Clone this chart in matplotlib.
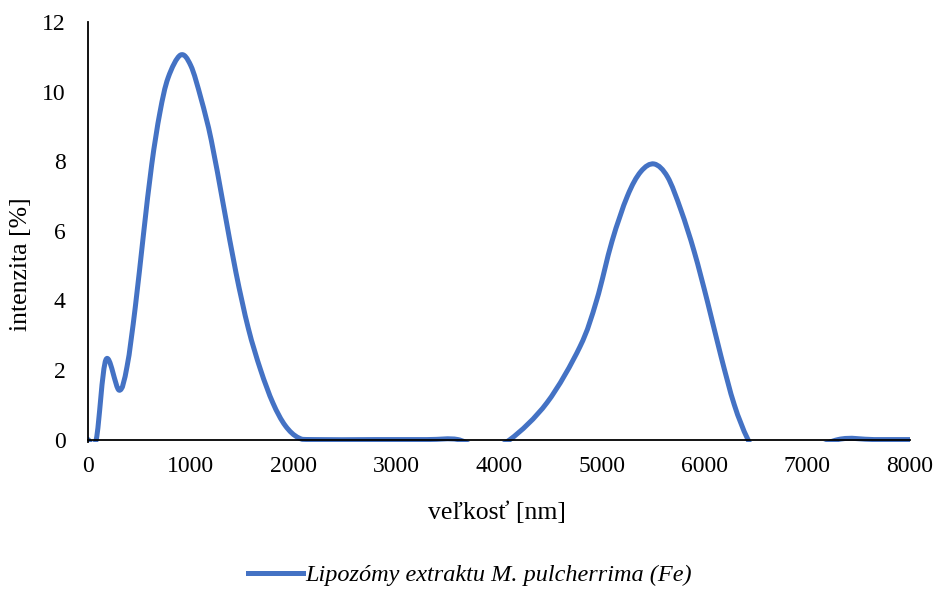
import numpy as np
import matplotlib
matplotlib.use('Agg')
import matplotlib.pyplot as plt
from matplotlib.path import Path
from matplotlib.patches import PathPatch
from matplotlib.lines import Line2D

plt.rcParams['font.family'] = ['Liberation Serif', 'DejaVu Serif']

# size distribution (x in nm, y in %)
size_nm = [0, 80, 175, 302, 380, 460, 540, 620, 700, 780, 900, 1000, 1100, 1200, 1320,
           1440, 1560, 1680, 1800, 1920, 2050, 2200, 2800, 3300, 3600, 3850, 4107,
           4467, 4788, 4950, 5100, 5250, 5380, 5510, 5640, 5770, 5900, 6030, 6160,
           6290, 6423, 6600, 6900, 7300, 7650, 8000]
intensity = [0, 0, 2.3, 1.42, 2.1, 3.8, 5.9, 7.9, 9.4, 10.4, 11.05, 10.75, 9.8, 8.6, 6.7,
             4.8, 3.2, 2.0, 1.05, 0.4, 0.05, 0.0, 0.0, 0.0, 0.0, -0.3, 0.0,
             1.06, 2.67, 4.0, 5.7, 7.0, 7.7, 7.92, 7.55, 6.6, 5.4, 3.95, 2.4,
             1.0, 0.0, -0.9, -0.5, 0.0, 0.0, 0.0]
series_label = 'Lipozómy extraktu M. pulcherrima (Fe)'
line_color = '#4472C4'

# smoothed line like excel (catmull-rom -> cubic bezier)
pts = np.column_stack([size_nm, intensity]).astype(float)
ext = np.vstack([pts[0], pts, pts[-1]])
verts = [pts[0]]
codes = [Path.MOVETO]
for i in range(1, len(ext) - 2):
    p0, p1, p2, p3 = ext[i - 1], ext[i], ext[i + 1], ext[i + 2]
    verts += [p1 + (p2 - p0) / 6, p2 - (p3 - p1) / 6, p2]
    codes += [Path.CURVE4] * 3

fig = plt.figure(figsize=(9.36, 5.89), dpi=100)
ax = fig.add_axes([88 / 936, 1 - 440 / 589 - 0.004, 822 / 936, 418 / 589 + 0.004])
ax.add_patch(PathPatch(Path(verts, codes), fill=False, edgecolor=line_color,
                       lw=3.6, capstyle='round', joinstyle='round'))

ax.set_xlim(0, 8000)
ax.set_ylim(-0.08, 12)
ax.set_xticks(range(0, 8001, 1000))
ax.set_yticks(range(0, 13, 2))
ax.spines['bottom'].set_position(('data', 0))
ax.spines['top'].set_visible(False)
ax.spines['right'].set_visible(False)
for s in ('left', 'bottom'):
    ax.spines[s].set_linewidth(1.3)
ax.tick_params(length=0, labelsize=17, pad=12)
ax.tick_params(axis='y', pad=16)

ax.set_xlabel('veľkosť [nm]', fontsize=18.5, va='center')
ax.set_ylabel('intenzita [%]', fontsize=18.5, va='center')
ax.xaxis.set_label_coords(0.4976, -0.167)
ax.yaxis.set_label_coords(-0.0815, 0.423)

handle = Line2D([], [], color=line_color, lw=3.6)
fig.legend([handle], [series_label], loc='center', bbox_to_anchor=(470 / 936, 1 - 575 / 589),
           frameon=False, prop={'style': 'italic', 'size': 17.5}, handlelength=2.26,
           handletextpad=0.12)

fig.savefig('out.png', dpi=100)
